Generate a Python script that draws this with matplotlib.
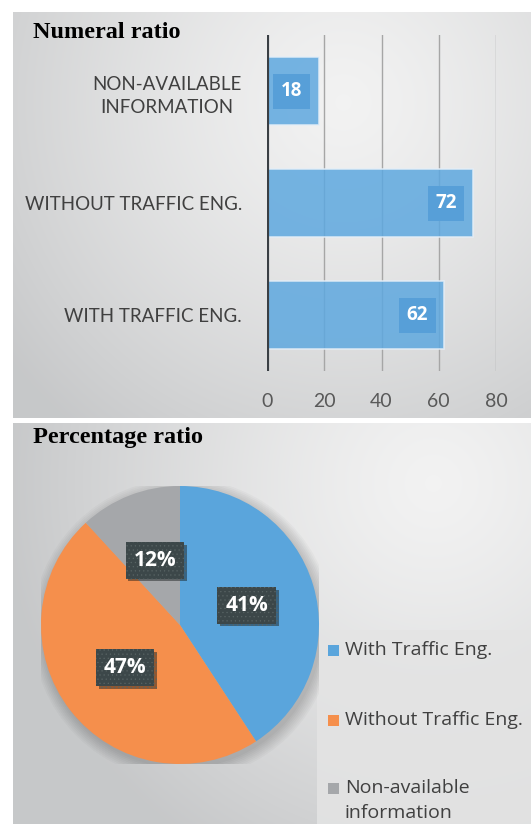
import matplotlib.pyplot as plt
import matplotlib.patheffects as pe
import numpy as np

# Dati
categories = ['WITH TRAFFIC ENG.', 'WITHOUT TRAFFIC ENG.', 'NON-AVAILABLE\nINFORMATION']
counts = [62, 72, 18]
x_ticks = [0, 20, 40, 60, 80]
pie_labels = ['With Traffic Eng.', 'Without Traffic Eng.', 'Non-available\ninformation']
pie_colors = ['#5aa5dc', '#f58f4c', '#a5a7aa']

plt.rcParams['hatch.linewidth'] = 0.4

W, H = 531, 824
fig = plt.figure(figsize=(W / 100, H / 100), dpi=100)
fig.patch.set_facecolor('white')


def px_axes(x0, y0, x1, y1, **kw):
    # rettangolo in pixel (origine in alto a sinistra) -> axes
    return fig.add_axes([x0 / W, 1 - y1 / H, (x1 - x0) / W, (y1 - y0) / H], **kw)


def gradient_bg(ax, w, h, cx, cy, r):
    yy, xx = np.mgrid[0:h, 0:w]
    d = np.clip(np.hypot(xx - cx, yy - cy) / r, 0, 1)
    light = np.array([0.95, 0.95, 0.95])
    dark = np.array([0.78, 0.785, 0.79])
    img = light + (dark - light) * d[..., None] ** 1.3
    ax.imshow(img, extent=[0, w, h, 0], aspect='auto')
    ax.set_xlim(0, w)
    ax.set_ylim(h, 0)
    ax.axis('off')


# Sfondi
bg1 = px_axes(13, 12, 531, 418)
gradient_bg(bg1, 518, 406, 330, 90, 420)
bg2 = px_axes(13, 423, 531, 824)
gradient_bg(bg2, 518, 401, 420, 60, 430)
bg2.add_patch(plt.Rectangle((304, 207), 214, 194, color='#e4e4e4', alpha=0.85, lw=0))

fig.text(33 / W, 1 - 32 / H, 'Numeral ratio', family='Liberation Serif',
         weight='bold', fontsize=17.5, va='center', ha='left', color='black')
fig.text(33 / W, 1 - 438 / H, 'Percentage ratio', family='Liberation Serif',
         weight='bold', fontsize=17.5, va='center', ha='left', color='black')

# Grafico a barre
ax = px_axes(267, 35, 496, 371)
ax.patch.set_alpha(0)
ypos = np.arange(len(categories)) + 0.5
ax.set_xlim(0, 80)
ax.set_ylim(0, 3)
ax.set_axisbelow(True)
ax.grid(axis='x', color='#a6a6a6', lw=1)
bars = ax.barh(ypos, counts, height=0.6, color='#5ea8df', alpha=0.85,
               edgecolor='#e4eef7', lw=1.2)
for y, v in zip(ypos, counts):
    ax.annotate(str(v), (v, y), xytext=(-19.5, 0), textcoords='offset points',
                ha='center', va='center', color='white', weight='bold',
                family='Open Sans', fontsize=13.5,
                bbox=dict(boxstyle='square,pad=0.4', fc='#579fd8', ec='none'))
ax.axvline(0, color='#3a3f44', lw=3)
for s in ax.spines.values():
    s.set_visible(False)
ax.set_xticks(x_ticks)
ax.set_yticks(ypos)
ax.set_yticklabels(categories, family='Lato', fontsize=13.5, color='#404040',
                   linespacing=1.45, multialignment='center')
ax.tick_params(axis='y', length=0, pad=18)
ax.tick_params(axis='x', length=0, pad=16, labelsize=14, labelcolor='#595959')
for t in ax.get_xticklabels():
    t.set_family('Lato')

# Grafico a torta
pax = px_axes(41, 486, 319, 764)
pax.axis('off')
for k in range(8):
    pax.add_patch(plt.Circle((0.02, -0.03), 1.0 + 0.012 * k, color='black',
                             alpha=0.025, lw=0))
wedges, texts, autotexts = pax.pie(counts, colors=pie_colors, startangle=90,
                                   counterclock=False, autopct='%.0f%%',
                                   pctdistance=0.5, radius=1,
                                   wedgeprops=dict(lw=0))
pax.set_xlim(-1, 1)
pax.set_ylim(-1, 1)
for t in autotexts:
    t.set_color('white')
    t.set_weight('bold')
    t.set_family('Open Sans')
    t.set_fontsize(15)
    t.set_bbox(dict(boxstyle='square,pad=0.38', fc='#3c4749', ec='#586464',
                    lw=0, hatch='....'))
    t.get_bbox_patch().set_path_effects(
        [pe.SimplePatchShadow(offset=(2, -2), alpha=0.45), pe.Normal()])

# Legenda
leg_y = [650, 720, 788]
for w, lab, y in zip(wedges, pie_labels, leg_y):
    fig.patches.append(plt.Rectangle((328 / W, 1 - (y + 6) / H), 11 / W, 11 / H,
                                     transform=fig.transFigure,
                                     color=w.get_facecolor(), lw=0))
    for i, line in enumerate(lab.split('\n')):
        fig.text(345 / W, 1 - (y + 25 * i) / H, line, family='Open Sans',
                 fontsize=14, color='#404040', va='center', ha='left')

fig.savefig('out.png', dpi=100)
